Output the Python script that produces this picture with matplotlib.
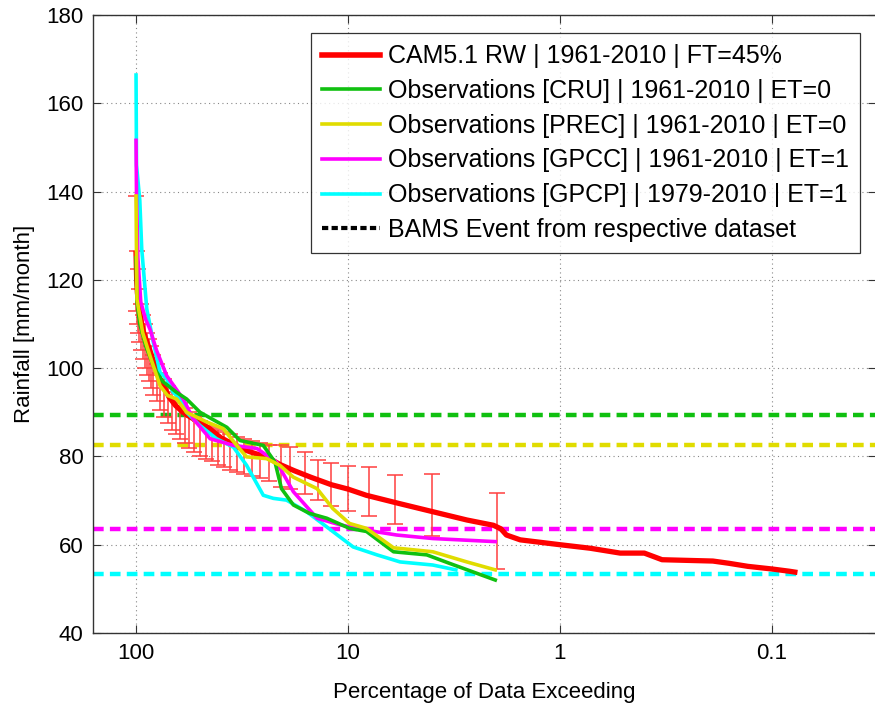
import matplotlib
matplotlib.use('Agg')
import matplotlib.pyplot as plt
import numpy as np
from matplotlib.lines import Line2D

plt.rcParams['font.family'] = ['Liberation Sans', 'DejaVu Sans']

# CAM5.1 ensemble (red) with spread bars
red_x = [100, 99.3, 98.5, 97, 95, 92, 89, 86, 82, 78, 74, 70, 65, 60, 55, 50, 45, 40, 35, 32,
         28, 24, 21, 18, 15, 12, 10, 8.2, 5.7, 4.0, 2.75, 2.06, 1.9, 1.79, 1.54, 1.0, 0.72,
         0.52, 0.40, 0.33, 0.19, 0.16, 0.13, 0.10, 0.083, 0.078]
red_y = [126, 120, 117, 114, 111, 108, 106, 104, 101, 98, 96, 93.5, 91.5, 90, 88.8, 87.8, 86.3,
         84.3, 82.8, 81.8, 80.8, 79.8, 78.2, 76.8, 75.3, 73.6, 72.6, 71.2, 69.3, 67.5, 65.6,
         64.4, 63.6, 62.2, 61.1, 60.0, 59.2, 58.1, 58.1, 56.6, 56.3, 55.8, 55.1, 54.5, 54.0, 53.8]

err_x = [100, 99, 98, 96.5, 95, 93, 91, 89, 87, 85, 83, 80, 77, 74, 71, 68, 65, 62, 59, 56, 53,
         50, 47, 44, 41, 38.5, 36, 33.5, 31, 28.5, 26, 23.5, 20.6, 18.7, 15.9, 13.8, 12.0, 10.0,
         7.97, 6.0, 4.0, 1.98]
err_hi = [139, 126.5, 122.5, 118, 114.5, 112, 110, 108, 106.5, 105, 103, 101, 99, 97.5, 96, 94.5,
          93, 92, 91, 90, 89, 88, 87, 86.5, 86, 85.5, 85, 84.5, 84, 83.5, 83, 82.5, 82.7, 82.1,
          81.0, 79.3, 78.4, 77.8, 77.6, 75.7, 76.0, 71.7]
err_lo = [113, 110, 108, 106, 104, 102, 100, 98.5, 97, 95.5, 94, 92.5, 90.5, 89, 87.5, 86, 85,
          84, 83, 82, 81, 80, 79.5, 79, 78, 77.5, 77, 76.5, 76, 75.5, 75, 74.5, 73.1, 72.6, 71.4,
          70.1, 68.8, 67.6, 66.5, 64.7, 62.0, 54.5]

# observations
cru_x = [100, 99, 96, 90, 82, 75, 64.3, 57.7, 49.9, 37.3, 32.3, 25.1, 22.1, 20.6, 18.1, 15.2,
         12.6, 9.83, 8.18, 6.1, 4.25, 3.33, 2.02]
cru_y = [125, 115, 110, 105, 100, 97, 94.5, 93, 90, 86.6, 83.6, 82.5, 78.7, 72.7, 69, 67.1, 66,
         63.7, 63, 58.4, 57.7, 55.8, 52]

prec_x = [100, 99.5, 99, 93, 86, 77, 71, 64.3, 57.7, 46.4, 38.8, 33.5, 30.1, 24.2, 21, 18.1, 14,
          11.8, 9.83, 8.18, 6.1, 3.98, 2.75, 2.02]
prec_y = [139, 125, 115.6, 108, 102.8, 96, 93.8, 93, 90, 87.8, 86.3, 82.5, 79.9, 79.5, 78, 75.3,
          72.7, 68.2, 64.8, 63.7, 59.3, 58.4, 56.1, 54.3]

gpcc_x = [100, 99.5, 98, 95, 90, 85.9, 80, 71.7, 59.9, 53.7, 44.7, 34.7, 26.9, 21.7, 18.1, 14,
          10.9, 8.2, 5.9, 3.98, 2.02]
gpcc_y = [151.6, 139, 125, 115, 111, 108.8, 104, 98.3, 93, 88.5, 84, 82.5, 81.8, 78.7, 72, 66,
          64.5, 63.3, 62.2, 61.4, 60.7]

gpcp_x = [100, 99.5, 96, 94, 89, 83, 77, 71.7, 67, 62, 57.7, 49.9, 41.7, 34.7, 30.1, 25.1, 22.5,
          19.5, 15.7, 11.8, 9.46, 7.3, 5.68, 3.98, 3.1]
gpcp_y = [166.4, 146, 138, 127, 113.4, 106, 99, 97.6, 94.6, 93, 90, 87, 84, 82.1, 78, 71.2, 70.5,
          70.1, 67.5, 63, 59.5, 57.7, 56.1, 55.4, 54.3]

# BAMS event thresholds
bams = {'cru': 89.4, 'prec': 82.5, 'gpcc': 63.5, 'gpcp': 53.4}

c_red = '#ff0000'
c_green = '#10c010'
c_yellow = '#e0dc00'
c_mag = '#ff00ff'
c_cyan = '#00ffff'

fig = plt.figure(figsize=(8.75, 7.05), dpi=100)
ax = fig.add_axes([93 / 875, 1 - 633 / 705, 783 / 875, 618 / 705])

xl = (159.6, 0.0323)
dash = (2.4, 1.4)
for key, col in [('cru', c_green), ('prec', c_yellow), ('gpcc', c_mag), ('gpcp', c_cyan)]:
    ax.plot(xl, [bams[key], bams[key]], color=col, lw=3.2, dashes=dash, zorder=2)

mid = (np.array(err_hi) + np.array(err_lo)) / 2
ax.errorbar(err_x, mid, yerr=[mid - np.array(err_lo), np.array(err_hi) - mid], fmt='none',
            ecolor='#ff4040', elinewidth=1.3, capsize=6, capthick=1.3, alpha=0.85, zorder=3)
ax.plot(red_x, red_y, color=c_red, lw=3.8, zorder=4)
ax.plot(gpcp_x, gpcp_y, color=c_cyan, lw=2.6, zorder=5)
ax.plot(gpcc_x, gpcc_y, color=c_mag, lw=2.6, zorder=5)
ax.plot(cru_x, cru_y, color=c_green, lw=2.6, zorder=5)
ax.plot(prec_x, prec_y, color=c_yellow, lw=2.6, zorder=5)

ax.set_xscale('log')
ax.set_xlim(*xl)
ax.set_ylim(40, 180)
ax.set_xticks([100, 10, 1, 0.1])
ax.set_xticklabels(['100', '10', '1', '0.1'])
ax.minorticks_off()
ax.set_yticks(np.arange(40, 181, 20))
ax.tick_params(direction='in', top=True, right=True, labelsize=16, length=6, width=0.8,
               colors='#333333', labelcolor='black', pad=7)
ax.grid(True, linestyle=(0, (1, 3)), color='#888888', linewidth=0.8)
for s in ax.spines.values():
    s.set_color('#333333')
    s.set_linewidth(1.0)

ax.set_xlabel('Percentage of Data Exceeding', fontsize=16, labelpad=13)
ax.set_ylabel('Rainfall [mm/month]', fontsize=16, labelpad=8)

handles = [
    Line2D([], [], color=c_red, lw=4),
    Line2D([], [], color=c_green, lw=2.6),
    Line2D([], [], color=c_yellow, lw=2.6),
    Line2D([], [], color=c_mag, lw=2.6),
    Line2D([], [], color=c_cyan, lw=2.6),
    Line2D([], [], color='black', lw=3, dashes=(1.5, 0.8)),
]
labels = [
    'CAM5.1 RW | 1961-2010 | FT=45%',
    'Observations [CRU] | 1961-2010 | ET=0',
    'Observations [PREC] | 1961-2010 | ET=0',
    'Observations [GPCC] | 1961-2010 | ET=1',
    'Observations [GPCP] | 1979-2010 | ET=1',
    'BAMS Event from respective dataset',
]
leg = ax.legend(handles, labels, loc='upper right', bbox_to_anchor=(860 / 875, 1 - 33 / 705),
                bbox_transform=fig.transFigure, fontsize=18, frameon=True, fancybox=False,
                handlelength=2.3, handletextpad=0.33, labelspacing=0.43, borderpad=0.45,
                borderaxespad=0)
leg.get_frame().set_edgecolor('black')
leg.get_frame().set_linewidth(0.9)
leg.set_zorder(10)

fig.savefig('out.png', dpi=100)
